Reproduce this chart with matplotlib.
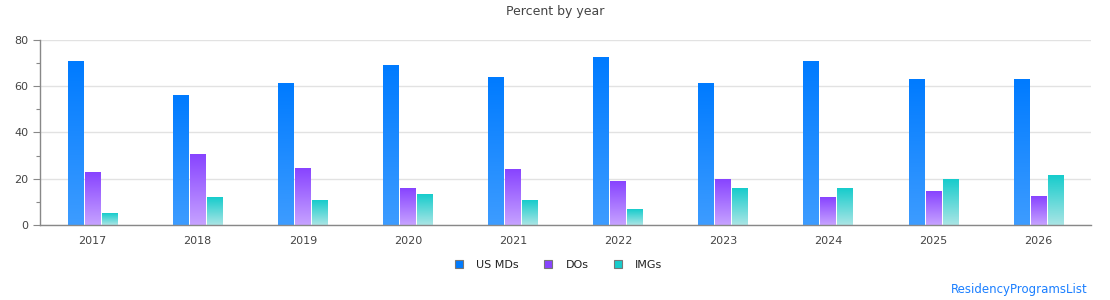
import numpy as np
import matplotlib.pyplot as plt
from matplotlib.colors import LinearSegmentedColormap
from matplotlib.lines import Line2D

years = ["2017", "2018", "2019", "2020", "2021", "2022", "2023", "2024", "2025", "2026"]
us_mds = [70.5, 55.8, 61.4, 68.8, 63.6, 72.6, 61.4, 70.5, 62.7, 62.7]
dos = [22.5, 30.7, 24.6, 15.6, 23.8, 18.6, 19.5, 11.7, 14.7, 12.5]
imgs = [4.8, 11.7, 10.4, 13.4, 10.4, 6.5, 15.6, 15.6, 19.5, 21.6]

series = [
    ("US MDs", us_mds, "#007bff", "#3d9cff"),
    ("DOs", dos, "#8844ff", "#c6a2ff"),
    ("IMGs", imgs, "#17cccc", "#a9e5e5"),
]

fig = plt.figure(figsize=(11.1, 3.0), dpi=100)
ax = fig.add_axes([40 / 1110, 0.25, (1091 - 40) / 1110, 0.6167])

x = np.arange(len(years))
step = 0.162
bw = 0.148
grad = np.linspace(0, 1, 100).reshape(-1, 1)

# gradient-filled bars: draw the bar, then paint an image over its box
for k, (name, vals, top, bottom) in enumerate(series):
    cmap = LinearSegmentedColormap.from_list(name, [bottom, top])
    bars = ax.bar(x + (k - 1) * step, vals, bw, color=top, zorder=2)
    for b in bars:
        x0, w, h = b.get_x(), b.get_width(), b.get_height()
        ax.imshow(grad, extent=[x0, x0 + w, 0, h], origin="lower",
                  cmap=cmap, aspect="auto", zorder=3, interpolation="bilinear")
        b.set_visible(False)

ax.set_xlim(-0.5, len(years) - 0.5)
ax.set_ylim(0, 80)
ax.set_xticks(x)
ax.set_xticklabels(years)
ax.set_yticks([0, 20, 40, 60, 80])
ax.set_yticks([10, 30, 50, 70], minor=True)
ax.tick_params(axis="x", length=0, pad=8, labelsize=8, colors="#444444")
ax.tick_params(axis="y", which="major", length=5, width=0.8, color="#888888",
               labelsize=8, labelcolor="#444444")
ax.tick_params(axis="y", which="minor", length=3, width=0.8, color="#888888")
ax.grid(axis="y", color="#e2e2e2", linewidth=1, zorder=0)
ax.set_axisbelow(True)
for s in ["top", "right"]:
    ax.spines[s].set_visible(False)
for s in ["left", "bottom"]:
    ax.spines[s].set_color("#888888")
    ax.spines[s].set_linewidth(1)
ax.spines["bottom"].set_zorder(4)

fig.text(0.5, 0.96, "Percent by year", ha="center", va="center",
         fontsize=9, color="#444444")

handles = [Line2D([], [], marker="s", linestyle="", markersize=6,
                  markerfacecolor=c, markeredgecolor="#777777", markeredgewidth=0.8)
           for _, _, c, _ in series]
fig.legend(handles, [s[0] for s in series], loc="center",
           bbox_to_anchor=(0.5, 0.117), ncol=3, frameon=False, fontsize=8,
           handletextpad=0.6, columnspacing=1.6, labelcolor="#222222")

fig.text(1088 / 1110, 1 - 290 / 300, "ResidencyProgramsList", ha="right",
         va="center", fontsize=8.5, color="#1a7fff")

fig.savefig("out.png", dpi=100)
